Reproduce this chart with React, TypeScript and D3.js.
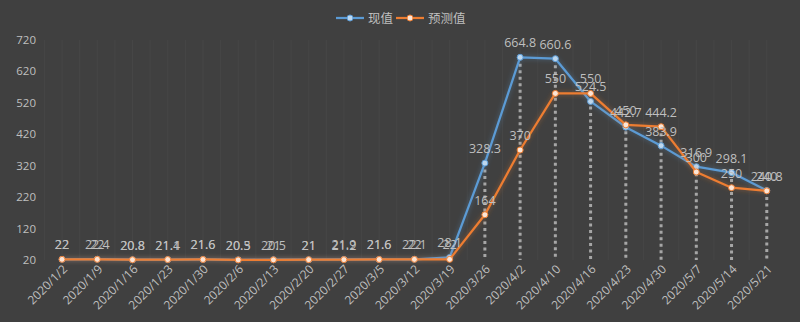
import { useEffect, useRef } from 'react';
import * as d3 from 'd3';

const categories = [
  '2020/1/2', '2020/1/9', '2020/1/16', '2020/1/23', '2020/1/30', '2020/2/6', '2020/2/13',
  '2020/2/20', '2020/2/27', '2020/3/5', '2020/3/12', '2020/3/19', '2020/3/26', '2020/4/2',
  '2020/4/10', '2020/4/16', '2020/4/23', '2020/4/30', '2020/5/7', '2020/5/14', '2020/5/21',
];
const actual = [22, 22.4, 20.8, 21.1, 21.6, 20.5, 21, 21, 21.9, 21.6, 22.1, 28.1, 328.3, 664.8, 660.6, 524.5, 442.7, 383.9, 316.9, 298.1, 240.8];
const forecast = [22, 22, 20.8, 21.4, 21.6, 20.3, 20.5, 21, 21.2, 21.6, 22, 22, 164, 370, 550, 550, 450, 444.2, 300, 250, 240];
const yTicks = [20, 120, 220, 320, 420, 520, 620, 720];

const W = 800;
const H = 322;
const BG = '#404040';
const TXT = '#bfbfbf';
const BLUE = '#5b9bd5';
const ORANGE = '#ed7d31';
const FONT = '"Open Sans", "Noto Sans CJK SC", sans-serif';

export default function App() {
  const ref = useRef<SVGSVGElement>(null);

  useEffect(() => {
    const svg = d3.select(ref.current);
    svg.selectAll('*').remove();

    const x = d3.scaleBand<string>().domain(categories).range([44.4, 784.4]);
    const cx = (c: string) => (x(c) as number) + x.bandwidth() / 2;
    const y = d3.scaleLinear().domain([20, 720]).range([260, 40]);

    const defs = svg.append('defs');
    const glow = (id: string, color: string) => {
      const f = defs.append('filter').attr('id', id).attr('x', '-20%').attr('y', '-20%').attr('width', '140%').attr('height', '140%');
      f.append('feGaussianBlur').attr('in', 'SourceAlpha').attr('stdDeviation', 2.5).attr('result', 'b');
      f.append('feFlood').attr('flood-color', color).attr('flood-opacity', 0.45);
      f.append('feComposite').attr('in2', 'b').attr('operator', 'in').attr('result', 'g');
      const m = f.append('feMerge');
      m.append('feMergeNode').attr('in', 'g');
      m.append('feMergeNode').attr('in', 'SourceGraphic');
    };
    glow('glowO', ORANGE);
    glow('glowB', BLUE);

    svg.append('rect').attr('width', W).attr('height', H).attr('fill', BG);

    // faint vertical gridlines
    const vg = svg.append('g');
    categories.forEach((c) => {
      [x(c) as number, cx(c)].forEach((vx) => {
        vg.append('line')
          .attr('x1', vx).attr('x2', vx).attr('y1', 40).attr('y2', 260)
          .attr('stroke', '#464646').attr('stroke-width', 1);
      });
    });

    // y axis labels
    svg.append('g').selectAll('text').data(yTicks).join('text')
      .attr('x', 36).attr('y', (d) => y(d) + 4)
      .attr('text-anchor', 'end')
      .attr('fill', TXT).attr('font-size', 11.5).attr('font-family', FONT)
      .text((d) => d);

    // drop lines
    svg.append('g').selectAll('line').data(categories).join('line')
      .attr('x1', cx).attr('x2', cx)
      .attr('y1', (_, i) => y(Math.max(actual[i], forecast[i])))
      .attr('y2', 260)
      .attr('stroke', '#a6a6a6').attr('stroke-width', 3).attr('stroke-dasharray', '3,3.5');

    // x labels
    svg.append('g').selectAll('text').data(categories).join('text')
      .attr('transform', (c) => `translate(${cx(c) + 6},${270}) rotate(-45)`)
      .attr('text-anchor', 'end')
      .attr('fill', TXT).attr('font-size', 12).attr('font-family', FONT)
      .text((d) => d);

    const line = d3.line<number>().x((_, i) => cx(categories[i])).y((d) => y(d));

    const drawSeries = (vals: number[], color: string, fill: string, filter: string) => {
      svg.append('path').datum(vals).attr('d', line)
        .attr('fill', 'none').attr('stroke', color).attr('stroke-width', 2.25)
        .attr('stroke-linejoin', 'round').attr('filter', `url(#${filter})`);
      svg.append('g').selectAll('circle').data(vals).join('circle')
        .attr('cx', (_, i) => cx(categories[i])).attr('cy', (d) => y(d))
        .attr('r', 3).attr('fill', fill).attr('stroke', color).attr('stroke-width', 1);
    };
    drawSeries(actual, BLUE, '#bdd7ee', 'glowB');
    drawSeries(forecast, ORANGE, '#fbe5d6', 'glowO');

    // data labels
    const labels = (vals: number[]) => {
      svg.append('g').selectAll('text').data(vals).join('text')
        .attr('x', (_, i) => cx(categories[i])).attr('y', (d) => y(d) - 10)
        .attr('text-anchor', 'middle')
        .attr('fill', TXT).attr('font-size', 12.5).attr('font-family', FONT)
        .text((d) => d);
    };
    labels(actual);
    labels(forecast);

    // legend
    const lg = svg.append('g').attr('transform', 'translate(336,18)');
    const item = (dx: number, color: string, fill: string, name: string) => {
      const g = lg.append('g').attr('transform', `translate(${dx},0)`);
      g.append('line').attr('x1', 0).attr('x2', 28).attr('y1', 0).attr('y2', 0)
        .attr('stroke', color).attr('stroke-width', 2.25);
      g.append('circle').attr('cx', 14).attr('cy', 0).attr('r', 3)
        .attr('fill', fill).attr('stroke', color);
      g.append('text').attr('x', 32).attr('y', 4.5)
        .attr('fill', TXT).attr('font-size', 12.5).attr('font-family', FONT)
        .text(name);
    };
    item(0, BLUE, '#bdd7ee', '现值');
    item(60, ORANGE, '#fbe5d6', '预测值');
  }, []);

  return (
    <svg ref={ref} width={W} height={H} style={{ position: 'absolute', left: 0, top: 0, display: 'block' }} />
  );
}
